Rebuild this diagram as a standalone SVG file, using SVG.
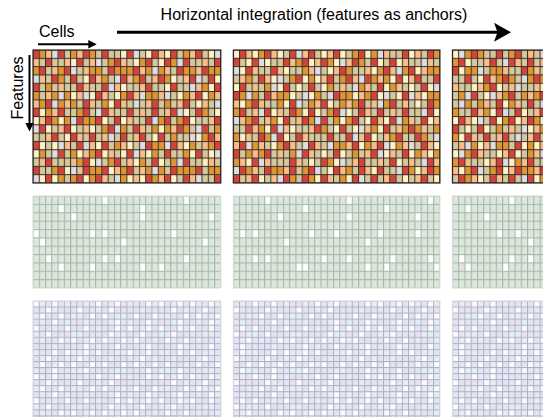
<svg xmlns="http://www.w3.org/2000/svg" width="543" height="417" viewBox="0 0 543 417">
<style>
text{font-family:"Liberation Sans",Arial,sans-serif;fill:#000;font-size:16px}
.tb{fill:#d4c89d}
.gb{fill:#dde8dd}
.lb{fill:#e6e4f2}
.tbd{fill:none;stroke:#2b2420;stroke-width:1.2}
.gbd{fill:none;stroke:#d6ded7;stroke-width:1}
.lbd{fill:none;stroke:#d9d9e2;stroke-width:1}
.arr{stroke:#000;fill:none}
</style>
<defs>
<pattern id="tA" patternUnits="userSpaceOnUse" width="5" height="3" patternTransform="translate(33 50) scale(6.26 8.3125)"><g fill="#e0952f"><rect x="1" y="0" width="1" height="1"/><rect x="4" y="0" width="1" height="1"/><rect x="2" y="1" width="1" height="1"/><rect x="0" y="2" width="1" height="1"/><rect x="3" y="2" width="1" height="1"/><rect x="4" y="2" width="1" height="1"/></g></pattern>
<pattern id="tB" patternUnits="userSpaceOnUse" width="7" height="4" patternTransform="translate(33 50) scale(6.26 8.3125)"><g fill="#fdf2c4"><rect x="0" y="0" width="1" height="1"/><rect x="4" y="0" width="1" height="1"/><rect x="2" y="1" width="1" height="1"/><rect x="6" y="1" width="1" height="1"/><rect x="5" y="2" width="1" height="1"/><rect x="1" y="3" width="1" height="1"/><rect x="3" y="3" width="1" height="1"/></g></pattern>
<pattern id="tC" patternUnits="userSpaceOnUse" width="9" height="5" patternTransform="translate(33 50) scale(6.26 8.3125)"><g fill="#f9bd8a"><rect x="2" y="0" width="1" height="1"/><rect x="7" y="0" width="1" height="1"/><rect x="5" y="1" width="1" height="1"/><rect x="0" y="1" width="1" height="1"/><rect x="8" y="2" width="1" height="1"/><rect x="3" y="2" width="1" height="1"/><rect x="1" y="3" width="1" height="1"/><rect x="6" y="3" width="1" height="1"/><rect x="4" y="4" width="1" height="1"/><rect x="8" y="4" width="1" height="1"/></g></pattern>
<pattern id="tD" patternUnits="userSpaceOnUse" width="11" height="7" patternTransform="translate(33 50) scale(6.26 8.3125)"><g fill="#d8413a"><rect x="0" y="0" width="1" height="1"/><rect x="4" y="0" width="1" height="1"/><rect x="8" y="0" width="1" height="1"/><rect x="2" y="1" width="1" height="1"/><rect x="7" y="1" width="1" height="1"/><rect x="10" y="1" width="1" height="1"/><rect x="5" y="2" width="1" height="1"/><rect x="1" y="2" width="1" height="1"/><rect x="9" y="3" width="1" height="1"/><rect x="3" y="3" width="1" height="1"/><rect x="6" y="3" width="1" height="1"/><rect x="0" y="4" width="1" height="1"/><rect x="7" y="4" width="1" height="1"/><rect x="4" y="5" width="1" height="1"/><rect x="10" y="5" width="1" height="1"/><rect x="2" y="6" width="1" height="1"/><rect x="8" y="6" width="1" height="1"/></g></pattern>
<pattern id="tE" patternUnits="userSpaceOnUse" width="13" height="6" patternTransform="translate(33 50) scale(6.26 8.3125)"><g fill="#dddde3"><rect x="3" y="0" width="1" height="1"/><rect x="10" y="1" width="1" height="1"/><rect x="6" y="2" width="1" height="1"/><rect x="0" y="3" width="1" height="1"/><rect x="12" y="4" width="1" height="1"/><rect x="8" y="5" width="1" height="1"/><rect x="4" y="5" width="1" height="1"/></g></pattern>
<pattern id="tL" patternUnits="userSpaceOnUse" x="32.5" y="49.5" width="6.26" height="8.3125"><g fill="#3a2f28"><rect width="6.26" height="1"/><rect width="1" height="8.3125"/></g></pattern>

<pattern id="gA" patternUnits="userSpaceOnUse" width="13" height="7" patternTransform="translate(33 196) scale(6.26 8.3636)"><g fill="#ffffff"><rect x="4" y="1" width="1" height="1"/><rect x="9" y="4" width="1" height="1"/><rect x="1" y="5" width="1" height="1"/><rect x="11" y="0" width="1" height="1"/></g></pattern>
<pattern id="gB" patternUnits="userSpaceOnUse" width="11" height="9" patternTransform="translate(33 196) scale(6.26 8.3636)"><g fill="#ffffff"><rect x="6" y="2" width="1" height="1"/><rect x="2" y="7" width="1" height="1"/><rect x="9" y="8" width="1" height="1"/><rect x="0" y="4" width="1" height="1"/></g></pattern>
<pattern id="gL" patternUnits="userSpaceOnUse" x="32.5" y="195.5" width="6.26" height="8.3636"><g fill="#a9b6ac"><rect width="6.26" height="1.1"/><rect width="1.1" height="8.3636"/></g></pattern>

<pattern id="lA" patternUnits="userSpaceOnUse" width="5" height="4" patternTransform="translate(33 301) scale(6.26 6.05)"><g fill="#fbfbfd"><rect x="0" y="0" width="1" height="1"/><rect x="3" y="0" width="1" height="1"/><rect x="2" y="1" width="1" height="1"/><rect x="4" y="2" width="1" height="1"/><rect x="1" y="2" width="1" height="1"/><rect x="3" y="3" width="1" height="1"/></g></pattern>
<pattern id="lB" patternUnits="userSpaceOnUse" width="7" height="3" patternTransform="translate(33 301) scale(6.26 6.05)"><g fill="#e3eff5"><rect x="5" y="0" width="1" height="1"/><rect x="1" y="0" width="1" height="1"/><rect x="3" y="1" width="1" height="1"/><rect x="6" y="2" width="1" height="1"/><rect x="0" y="2" width="1" height="1"/></g></pattern>
<pattern id="lL" patternUnits="userSpaceOnUse" x="32.5" y="300.5" width="6.26" height="6.05"><g fill="#adb1c4"><rect width="6.26" height="1"/><rect width="1" height="6.05"/></g></pattern>
</defs>

<g id="matrix-top-1">
<rect class="tb" x="33" y="50" width="187.8" height="133"/>
<rect fill="url(#tA)" x="33" y="50" width="187.8" height="133"/>
<rect fill="url(#tB)" x="33" y="50" width="187.8" height="133"/>
<rect fill="url(#tC)" x="33" y="50" width="187.8" height="133"/>
<rect fill="url(#tD)" x="33" y="50" width="187.8" height="133"/>
<rect fill="url(#tE)" x="33" y="50" width="187.8" height="133"/>
<rect fill="url(#tL)" x="33" y="50" width="187.8" height="133"/>
<rect class="tbd" x="33" y="50" width="187.8" height="133"/>
</g>
<g id="matrix-top-2">
<rect class="tb" x="233.34" y="50" width="206.58" height="133"/>
<rect fill="url(#tA)" x="233.34" y="50" width="206.58" height="133"/>
<rect fill="url(#tB)" x="233.34" y="50" width="206.58" height="133"/>
<rect fill="url(#tC)" x="233.34" y="50" width="206.58" height="133"/>
<rect fill="url(#tD)" x="233.34" y="50" width="206.58" height="133"/>
<rect fill="url(#tE)" x="233.34" y="50" width="206.58" height="133"/>
<rect fill="url(#tL)" x="233.34" y="50" width="206.58" height="133"/>
<rect class="tbd" x="233.34" y="50" width="206.58" height="133"/>
</g>
<g id="matrix-top-3">
<rect class="tb" x="452.44" y="50" width="100" height="133"/>
<rect fill="url(#tA)" x="452.44" y="50" width="100" height="133"/>
<rect fill="url(#tB)" x="452.44" y="50" width="100" height="133"/>
<rect fill="url(#tC)" x="452.44" y="50" width="100" height="133"/>
<rect fill="url(#tD)" x="452.44" y="50" width="100" height="133"/>
<rect fill="url(#tE)" x="452.44" y="50" width="100" height="133"/>
<rect fill="url(#tL)" x="452.44" y="50" width="100" height="133"/>
<rect class="tbd" x="452.44" y="50" width="100" height="133"/>
</g>

<g id="matrix-mid-1">
<rect class="gb" x="33" y="196" width="187.8" height="92"/>
<rect fill="url(#gA)" x="33" y="196" width="187.8" height="92"/>
<rect fill="url(#gB)" x="33" y="196" width="187.8" height="92"/>
<rect fill="url(#gL)" x="33" y="196" width="187.8" height="92"/>
<rect class="gbd" x="33" y="196" width="187.8" height="92"/>
</g>
<g id="matrix-mid-2">
<rect class="gb" x="233.34" y="196" width="206.58" height="92"/>
<rect fill="url(#gA)" x="233.34" y="196" width="206.58" height="92"/>
<rect fill="url(#gB)" x="233.34" y="196" width="206.58" height="92"/>
<rect fill="url(#gL)" x="233.34" y="196" width="206.58" height="92"/>
<rect class="gbd" x="233.34" y="196" width="206.58" height="92"/>
</g>
<g id="matrix-mid-3">
<rect class="gb" x="452.44" y="196" width="100" height="92"/>
<rect fill="url(#gA)" x="452.44" y="196" width="100" height="92"/>
<rect fill="url(#gB)" x="452.44" y="196" width="100" height="92"/>
<rect fill="url(#gL)" x="452.44" y="196" width="100" height="92"/>
<rect class="gbd" x="452.44" y="196" width="100" height="92"/>
</g>

<g id="matrix-bot-1">
<rect class="lb" x="33" y="301" width="187.8" height="130"/>
<rect fill="url(#lA)" x="33" y="301" width="187.8" height="130"/>
<rect fill="url(#lB)" x="33" y="301" width="187.8" height="130"/>
<rect fill="url(#lL)" x="33" y="301" width="187.8" height="130"/>
<rect class="lbd" x="33" y="301" width="187.8" height="130"/>
</g>
<g id="matrix-bot-2">
<rect class="lb" x="233.34" y="301" width="206.58" height="130"/>
<rect fill="url(#lA)" x="233.34" y="301" width="206.58" height="130"/>
<rect fill="url(#lB)" x="233.34" y="301" width="206.58" height="130"/>
<rect fill="url(#lL)" x="233.34" y="301" width="206.58" height="130"/>
<rect class="lbd" x="233.34" y="301" width="206.58" height="130"/>
</g>
<g id="matrix-bot-3">
<rect class="lb" x="452.44" y="301" width="100" height="130"/>
<rect fill="url(#lA)" x="452.44" y="301" width="100" height="130"/>
<rect fill="url(#lB)" x="452.44" y="301" width="100" height="130"/>
<rect fill="url(#lL)" x="452.44" y="301" width="100" height="130"/>
<rect class="lbd" x="452.44" y="301" width="100" height="130"/>
</g>

<g id="connectors">
<line class="arr" x1="38" y1="44.3" x2="90" y2="44.3" stroke-width="2"/>
<path d="M88.3 40 L96.7 44.3 L88.3 48.5 Z" fill="#000"/>
<line class="arr" x1="117" y1="32.3" x2="498" y2="32.3" stroke-width="3"/>
<path d="M494 22.7 L511 32.3 L494 41.7 L497.5 32.3 Z" fill="#000"/>
<line class="arr" x1="29.5" y1="55" x2="29.5" y2="125" stroke-width="2"/>
<path d="M25.3 123 L29.5 131.5 L33.7 123 Z" fill="#000"/>
</g>

<g id="labels">
<text x="39" y="37">Cells</text>
<text x="314" y="20" text-anchor="middle">Horizontal integration (features as anchors)</text>
<text transform="translate(23.3 88) rotate(-90)" text-anchor="middle">Features</text>
</g>
</svg>
